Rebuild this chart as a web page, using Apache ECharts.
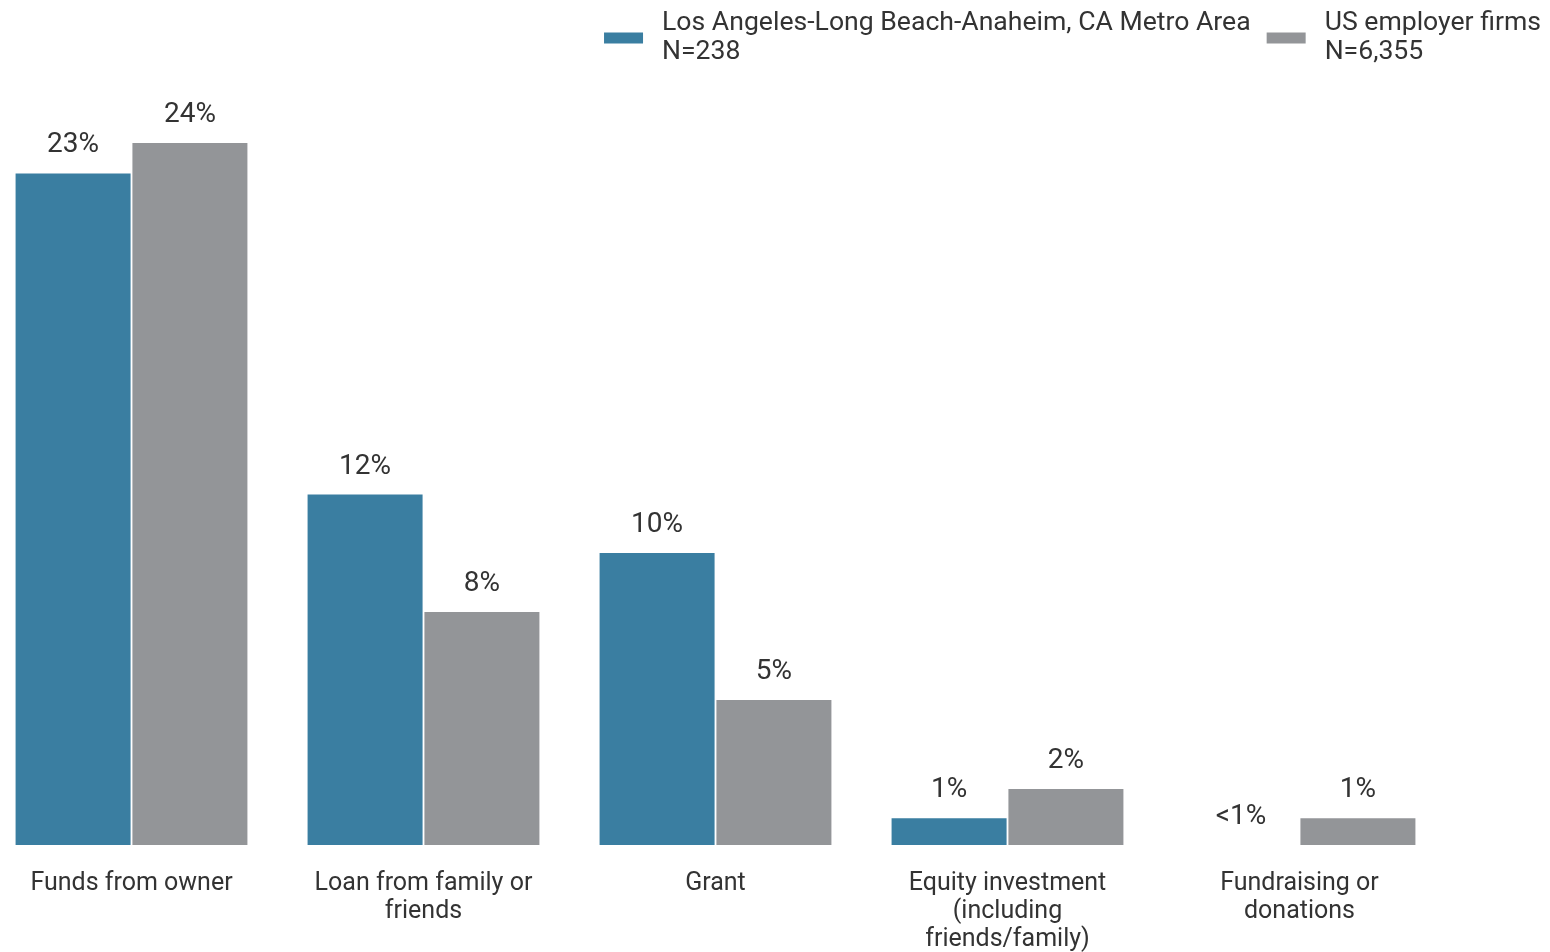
<!DOCTYPE html>
<html>
<head>
<meta charset="utf-8">
<script src="https://cdn.jsdelivr.net/npm/echarts@6/dist/echarts.min.js"></script>
<style>
    html, body {margin: 0; padding: 0; background: #fff;}
    #chart {width: 1550px; height: 952px;}
</style>
</head>
<body>
<div id="chart"></div>
<script>
var categories = ['Funds from owner', 'Loan from family or\nfriends', 'Grant',
    'Equity investment\n(including\nfriends/family)', 'Fundraising or\ndonations'];
var laValues = [23, 12, 10, 0.92, 0];
var laLabels = ['23%', '12%', '10%', '1%', '<1%'];
var usValues = [24.04, 7.98, 4.97, 1.92, 0.92];
var usLabels = ['24%', '8%', '5%', '2%', '1%'];
var seriesNames = ['Los Angeles-Long Beach-Anaheim, CA Metro Area\nN=238', 'US employer firms\nN=6,355'];

var myChart = echarts.init(document.getElementById('chart'));

function labelOf(list) {
    return {
        show: true,
        position: 'top',
        distance: 14,
        fontFamily: 'Roboto',
        fontSize: 28,
        color: '#333',
        formatter: function (p) {
            return list[p.dataIndex];
        }
    };
}

var option = {
    animation: false,
    textStyle: {fontFamily: 'Roboto'},
    legend: {
        top: 4,
        right: 4,
        itemWidth: 39,
        itemHeight: 11,
        itemGap: 16,
        icon: 'rect',
        textStyle: {fontFamily: 'Roboto', fontSize: 26.6, color: '#333', lineHeight: 29, padding: [0, 0, 0, 14]},
        data: seriesNames
    },
    grid: {left: -14.5, width: 1460, top: 27.4, height: 817.6, outerBoundsMode: 'none', containLabel: false},
    xAxis: {
        type: 'category',
        data: categories,
        axisLine: {show: false},
        axisTick: {show: false},
        axisLabel: {
            margin: 25,
            fontFamily: 'Roboto',
            fontSize: 25,
            lineHeight: 28,
            color: '#333',
            interval: 0
        }
    },
    yAxis: {type: 'value', min: 0, max: 28, show: false, splitLine: {show: false}},
    series: [
        {
            name: seriesNames[0],
            type: 'bar',
            data: laValues,
            barWidth: 115,
            barGap: '1.6%',
            itemStyle: {color: '#3a7ea1'},
            label: labelOf(laLabels)
        },
        {
            name: seriesNames[1],
            type: 'bar',
            data: usValues,
            barWidth: 115,
            itemStyle: {color: '#939598'},
            label: labelOf(usLabels)
        }
    ]
};

myChart.setOption(option);
</script>
</body>
</html>
